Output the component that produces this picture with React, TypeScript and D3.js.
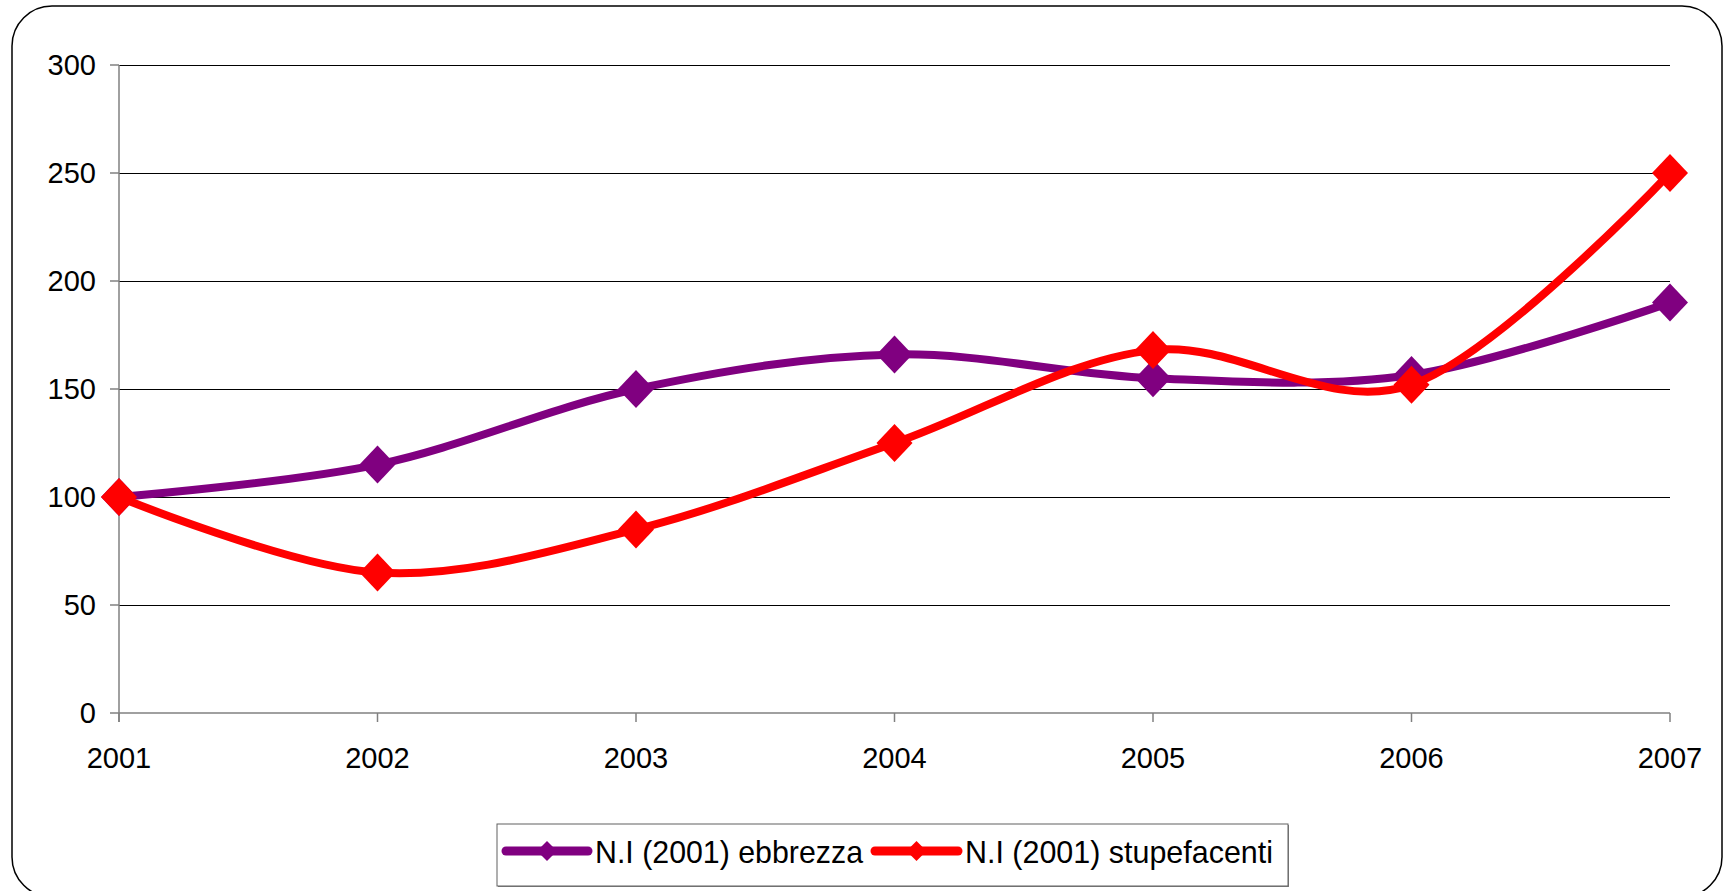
import React from 'react';
import * as d3 from 'd3';

const years = ['2001', '2002', '2003', '2004', '2005', '2006', '2007'];
const ebbrezza = [100, 115, 150, 166, 155, 156.5, 190];
const stupefacenti = [100, 65, 85, 125, 168, 152, 250];
const yTicks = [0, 50, 100, 150, 200, 250, 300];

const seriesList = [
  { name: 'N.I (2001) ebbrezza', values: ebbrezza, color: '#800080' },
  { name: 'N.I (2001) stupefacenti', values: stupefacenti, color: '#ff0000' },
];

const W = 1726;
const H = 891;
const FONT = '"Liberation Sans", Arial, sans-serif';

const App = () => {
  const x = d3.scalePoint<string>().domain(years).range([119, 1670]);
  const y = d3.scaleLinear().domain([0, 300]).range([713, 65]);

  const line = d3
    .line<number>()
    .x((_, i) => x(years[i]) as number)
    .y(d => y(d))
    .curve(d3.curveCatmullRom.alpha(0));

  const diamond = (cx: number, cy: number, hw: number, hh: number) =>
    `M${cx},${cy - hh}L${cx + hw},${cy}L${cx},${cy + hh}L${cx - hw},${cy}Z`;

  // legend layout (line sample start/end, text start/width)
  const legendItems = [
    { lx1: 506, lx2: 588, tx: 595, tw: 268 },
    { lx1: 875, lx2: 958, tx: 965, tw: 308 },
  ];

  return (
    <svg
      width={W}
      height={H}
      style={{ position: 'absolute', left: 0, top: 0, display: 'block', background: '#fff' }}
      fontFamily={FONT}
    >
      {/* outer frame */}
      <rect x={12} y={6} width={1710} height={891} rx={40} ry={40} fill="#fff" stroke="#000" strokeWidth={1.5} />

      {/* gridlines */}
      {yTicks.filter(t => t > 0).map(t => (
        <line key={t} x1={119} x2={1670} y1={y(t) + 0.5} y2={y(t) + 0.5} stroke="#000" strokeWidth={1} />
      ))}

      {/* axes */}
      <g stroke="#808080" strokeWidth={1.5}>
        <line x1={119} x2={119} y1={65} y2={722} />
        <line x1={119} x2={1670} y1={713} y2={713} />
        {yTicks.map(t => (
          <line key={t} x1={110} x2={119} y1={y(t)} y2={y(t)} />
        ))}
        {years.map(yr => (
          <line key={yr} x1={x(yr)} x2={x(yr)} y1={713} y2={722} />
        ))}
      </g>

      {/* tick labels */}
      {yTicks.map(t => (
        <text key={t} x={96} y={y(t) + 10} textAnchor="end" fontSize={29} fill="#000">
          {t}
        </text>
      ))}
      {years.map(yr => (
        <text key={yr} x={x(yr)} y={768} textAnchor="middle" fontSize={29} fill="#000">
          {yr}
        </text>
      ))}

      {/* series */}
      {seriesList.map(s => (
        <g key={s.name}>
          <path d={line(s.values) || ''} fill="none" stroke={s.color} strokeWidth={8} strokeLinejoin="round" />
          {s.values.map((v, i) => (
            <path key={i} d={diamond(x(years[i]) as number, y(v), 18, 19)} fill={s.color} />
          ))}
        </g>
      ))}

      {/* legend */}
      <rect x={498} y={825} width={791} height={62} fill="#808080" />
      <rect x={497} y={824} width={791} height={62} fill="#fff" stroke="#606060" strokeWidth={1} />
      {seriesList.map((s, i) => {
        const L = legendItems[i];
        const cx = (L.lx1 + L.lx2) / 2;
        return (
          <g key={s.name}>
            <line x1={L.lx1} x2={L.lx2} y1={851} y2={851} stroke={s.color} strokeWidth={9} strokeLinecap="round" />
            <path d={diamond(cx, 851, 10, 10)} fill={s.color} />
            <text
              x={L.tx}
              y={863}
              fontSize={32}
              fill="#000"
              textLength={L.tw}
              lengthAdjust="spacingAndGlyphs"
            >
              {s.name}
            </text>
          </g>
        );
      })}
    </svg>
  );
};

export default App;
